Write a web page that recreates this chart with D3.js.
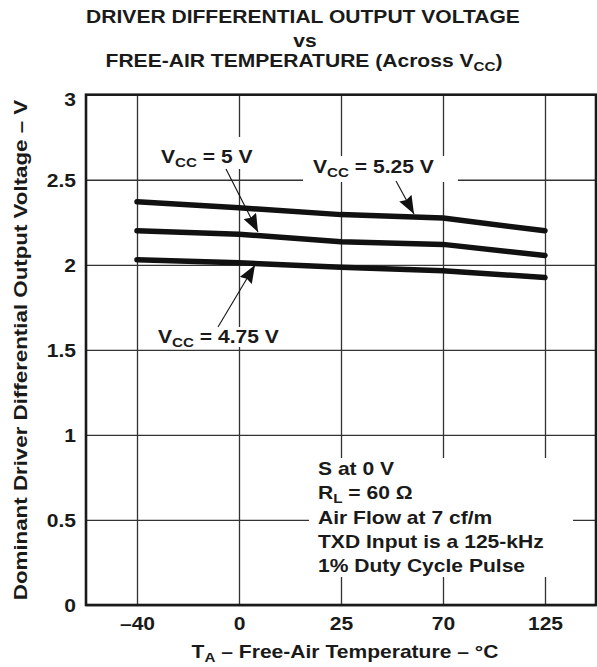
<!DOCTYPE html>
<html>
<head>
<meta charset="utf-8">
<script src="https://cdn.jsdelivr.net/npm/d3@7"></script>
<style>
  body { margin: 0; background: #fff; }
  text { font-family: "Liberation Sans", Arial, sans-serif; font-weight: bold; fill: #1a1a1a; }
</style>
</head>
<body>
<div class="chart"></div>
<script>
// data
var temps = ["\u201340", "0", "25", "70", "125"];
var vcc525 = [2.37, 2.335, 2.295, 2.275, 2.20];
var vcc500 = [2.20, 2.18, 2.135, 2.12, 2.055];
var vcc475 = [2.03, 2.012, 1.985, 1.965, 1.925];
var yTicks = [0, 0.5, 1, 1.5, 2, 2.5, 3];
var yTickLabels = ["0", "0.5", "1", "1.5", "2", "2.5", "3"];
var notes = ["S at 0 V", "R|L| = 60 \u03A9", "Air Flow at 7 cf/m", "TXD Input is a 125-kHz", "1% Duty Cycle Pulse"];

var svgWidth = 597;
var svgHeight = 667;
var sx = 1.17; // the original lettering is a bit wide

var margin = { top: 94.7, right: 1, bottom: 62, left: 86 };
var width = svgWidth - margin.left - margin.right;
var height = svgHeight - margin.top - margin.bottom;

var svg = d3.select(".chart")
  .append("svg")
  .attr("width", svgWidth)
  .attr("height", svgHeight);

var chartGroup = svg.append("g")
  .attr("transform", `translate(${margin.left}, ${margin.top})`);

var x = d3.scalePoint().domain(temps).range([0, width]).padding(0.5);
var y = d3.scaleLinear().domain([0, 3]).range([height, 0]);

// grid + tick labels through the axes
var xAxis = chartGroup.append("g")
  .attr("transform", `translate(0, ${height})`)
  .call(d3.axisBottom(x).tickSize(-height).tickPadding(0));
xAxis.select(".domain").remove();
xAxis.selectAll("line").attr("stroke", "#333").attr("stroke-width", 1.3);
xAxis.selectAll("text")
  .attr("y", 25).attr("dy", 0)
  .attr("font-size", 18)
  .attr("transform", `scale(${sx},1)`);

var yAxis = chartGroup.append("g")
  .call(d3.axisLeft(y).tickValues(yTicks).tickFormat((d, i) => yTickLabels[i]).tickSize(-width));
yAxis.select(".domain").remove();
yAxis.selectAll("line").attr("stroke", "#333").attr("stroke-width", 1.3);
yAxis.selectAll("text")
  .attr("x", -10 / sx).attr("dy", "0.36em")
  .attr("font-size", 18)
  .attr("transform", `scale(${sx},1)`);
// top label sits a little under the frame in the original
yAxis.selectAll("text").filter(d => d === 3).attr("dy", "0.6em");

// text helper, stretched horizontally
function wideText(parent, px, py, anchor, size, rot, s) {
  return parent.append("g")
    .attr("transform", `translate(${px},${py})` + (rot ? ` rotate(${rot})` : "") + ` scale(${s || sx},1)`)
    .append("text")
    .attr("text-anchor", anchor)
    .attr("font-size", size);
}

function vccLabel(px, py, value) {
  var t = wideText(svg, px, py, "start", 18);
  t.append("tspan").text("V");
  t.append("tspan").attr("font-size", 13).attr("dy", 4).text("CC");
  t.append("tspan").attr("dy", -4).text(" = " + value + " V");
}

// white patches behind labels (they break the grid)
var patches = [
  [155, 137, 100, 32],
  [303, 156, 155, 26],
  [152, 327, 134, 20],
  [309, 458, 264, 119]
];
svg.selectAll("rect.patch")
  .data(patches)
  .enter()
  .append("rect")
  .attr("class", "patch")
  .attr("x", d => d[0]).attr("y", d => d[1])
  .attr("width", d => d[2]).attr("height", d => d[3])
  .attr("fill", "#fff");

// frame
chartGroup.append("rect")
  .attr("width", width)
  .attr("height", height)
  .attr("fill", "none")
  .attr("stroke", "#1a1a1a")
  .attr("stroke-width", 2.6);

// the three curves
var line = d3.line()
  .x((d, i) => x(temps[i]))
  .y(d => y(d));

chartGroup.selectAll("path.curve")
  .data([vcc525, vcc500, vcc475])
  .enter()
  .append("path")
  .attr("class", "curve")
  .attr("d", line)
  .attr("fill", "none")
  .attr("stroke", "#111")
  .attr("stroke-width", 5.5)
  .attr("stroke-linecap", "round")
  .attr("stroke-linejoin", "round");

// arrows
svg.append("defs").append("marker")
  .attr("id", "head")
  .attr("markerUnits", "userSpaceOnUse")
  .attr("viewBox", "0 0 18 14")
  .attr("markerWidth", 18)
  .attr("markerHeight", 14)
  .attr("refX", 18)
  .attr("refY", 7)
  .attr("orient", "auto")
  .append("path")
  .attr("d", "M0,0 L18,7 L0,14 L2,7 Z")
  .attr("fill", "#111");

var leaders = [
  [226, 169, 258, 232],
  [396, 181, 414, 214],
  [218, 327, 255, 265]
];
svg.selectAll("line.leader")
  .data(leaders)
  .enter()
  .append("line")
  .attr("class", "leader")
  .attr("x1", d => d[0]).attr("y1", d => d[1])
  .attr("x2", d => d[2]).attr("y2", d => d[3])
  .attr("stroke", "#111")
  .attr("stroke-width", 1.1)
  .attr("marker-end", "url(#head)");

vccLabel(161, 163, "5");
vccLabel(313, 173, "5.25");
vccLabel(158, 343, "4.75");

// conditions box
notes.forEach(function (s, i) {
  var t = wideText(svg, 318, 475 + i * 24.3, "start", 18);
  var parts = s.split("|");
  t.append("tspan").text(parts[0]);
  if (parts.length > 1) {
    t.append("tspan").attr("font-size", 13).attr("dy", 4).text(parts[1]);
    t.append("tspan").attr("dy", -4).text(parts[2]);
  }
});

// title
wideText(svg, 303, 22.7, "middle", 18).text("DRIVER DIFFERENTIAL OUTPUT VOLTAGE");
wideText(svg, 305, 46.7, "middle", 18).text("vs");
var t3 = wideText(svg, 304, 66.7, "middle", 18);
t3.append("tspan").text("FREE-AIR TEMPERATURE (Across V");
t3.append("tspan").attr("font-size", 13).attr("dy", 4).text("CC");
t3.append("tspan").attr("dy", -4).text(")");

// axis titles
var xt = wideText(svg, 345, 658, "middle", 18);
xt.append("tspan").text("T");
xt.append("tspan").attr("font-size", 13).attr("dy", 4).text("A");
xt.append("tspan").attr("dy", -4).text(" \u2013 Free-Air Temperature \u2013 \u00B0C");

wideText(svg, 27, 350, "middle", 18, -90, 1.24)
  .text("Dominant Driver Differential Output Voltage \u2013 V");
</script>
</body>
</html>
